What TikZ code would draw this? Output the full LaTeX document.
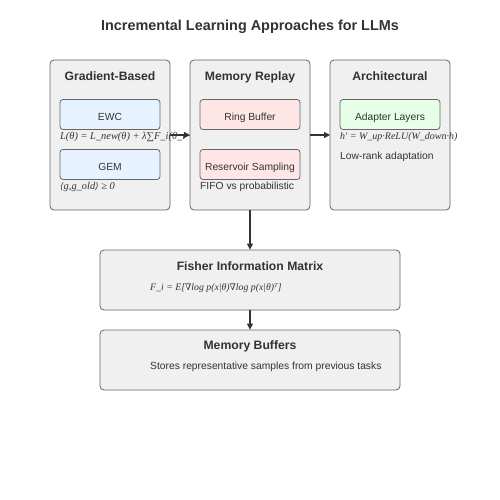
\documentclass[tikz,border=0pt]{standalone}
\usepackage{fontspec}
\setmainfont{Liberation Sans}
\newfontfamily\fser{Liberation Serif}
\newfontfamily\fdv{DejaVu Serif}
\usetikzlibrary{arrows.meta}
\definecolor{txt}{HTML}{333333}
\definecolor{bord}{HTML}{666666}
\definecolor{panelbg}{HTML}{F0F0F0}
\definecolor{bluebg}{HTML}{E6F2FF}
\definecolor{redbg}{HTML}{FFE6E6}
\definecolor{greenbg}{HTML}{E6FFE6}
\newcommand{\dv}[1]{{\fdv\itshape\fontsize{9}{11}\selectfont #1}}
\begin{document}
\begin{tikzpicture}[x=1pt,y=-1pt,
  panel/.style={draw=bord,fill=panelbg,rounded corners=4pt,line width=0.8pt},
  inner/.style={draw=bord,rounded corners=3pt,line width=0.8pt,minimum width=100pt,minimum height=30pt,inner sep=0pt},
  ilabel/.style={text=txt,font=\fontsize{10.3}{12}\selectfont,inner sep=0pt,anchor=base},
  ptitle/.style={text=txt,font=\bfseries\fontsize{12.2}{14}\selectfont,inner sep=0pt,anchor=base},
  small/.style={text=txt,font=\fontsize{10.3}{12}\selectfont,inner sep=0pt,anchor=base west},
  formula/.style={text=txt,font=\fser\itshape\fontsize{10.4}{12}\selectfont,inner sep=0pt,anchor=base west},
  arr/.style={draw=txt,line width=1.2pt,-{Triangle[length=6pt,width=6pt]}}]
\useasboundingbox (0,0) rectangle (500,500);
\fill[white] (0,0) rectangle (500,500);
\node[text=txt,font=\bfseries\fontsize{14.4}{16}\selectfont,inner sep=0pt,anchor=base] (title) at (250,30.5) {Incremental Learning Approaches for LLMs};
% Gradient panel
\draw[panel] (50,60) rectangle (170,210);
\coordinate (gR) at (170,135);
\node[ptitle] (gt) at (110,80.7) {Gradient-Based};
\node[inner,fill=bluebg] (ewc) at (110,114.5) {};
\node[ilabel] (ewcl) at (110,120.7) {EWC};
\node[formula] (ewcf) at (60,139.5) {L(θ) = L\_new(θ) + λ∑F\_i(θ\_i−θ*\_i)²};
\node[inner,fill=bluebg] (gem) at (110,164.5) {};
\node[ilabel] (geml) at (110,170.7) {GEM};
\node[formula] (gemf) at (60,189.5) {\dv{⟨}g,g\_old\dv{⟩} ≥ 0};
% Memory panel
\draw[panel] (190,60) rectangle (310,210);
\coordinate (mL) at (190,135);
\coordinate (mR) at (310,135);
\coordinate (mB) at (250,210);
\node[ptitle] (mt) at (250,80.7) {Memory Replay};
\node[inner,fill=redbg] (ring) at (250,114.5) {};
\node[ilabel] (ringl) at (250,120.7) {Ring Buffer};
\node[inner,fill=redbg] (res) at (250,164.5) {};
\node[ilabel] (resl) at (250,170.7) {Reservoir Sampling};
\node[small] (fifo) at (200,189.3) {FIFO vs probabilistic};
% Architectural panel
\draw[panel] (330,60) rectangle (450,210);
\coordinate (aL) at (330,135);
\node[ptitle] (at) at (390,80.7) {Architectural};
\node[inner,fill=greenbg] (adp) at (390,114.5) {};
\node[ilabel] (adpl) at (390,120.7) {Adapter Layers};
\node[formula,font=\fser\itshape\fontsize{10}{12}\selectfont] (adpf) at (340,139.5) {h' = W\_up·ReLU(W\_down·h)};
\node[small] (lowr) at (340,159.3) {Low-rank adaptation};
% Fisher
\node[draw=bord,fill=panelbg,rounded corners=4pt,line width=0.8pt,minimum width=300pt,minimum height=60pt,inner sep=0pt] (fisher) at (250,280) {};
\node[ptitle] (ft) at (250,270) {Fisher Information Matrix};
\node[formula,font=\fser\itshape\fontsize{9.8}{12}\selectfont] (ff) at (150,290) {F\_i = E[\dv{∇}log p(x|θ)\dv{∇}log p(x|θ)\dv{ᵀ}]};
% Memory buffers
\node[draw=bord,fill=panelbg,rounded corners=4pt,line width=0.8pt,minimum width=300pt,minimum height=60pt,inner sep=0pt] (mbuf) at (250,360) {};
\node[ptitle] (mbt) at (250,349.5) {Memory Buffers};
\node[small] (mbs) at (150,369.5) {Stores representative samples from previous tasks};
% arrows
\draw[arr] (gR) -- (mL);
\draw[arr] (mR) -- (aL);
\draw[arr] (mB) -- (fisher.north);
\draw[arr] (fisher.south) -- (mbuf.north);
\end{tikzpicture}
\end{document}
